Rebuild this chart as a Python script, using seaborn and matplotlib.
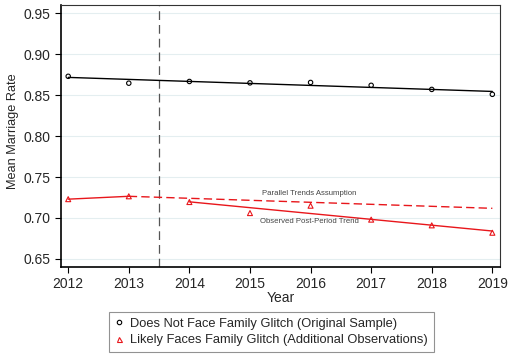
import numpy as np
import pandas as pd
import matplotlib
matplotlib.use("Agg")
import matplotlib.pyplot as plt
from matplotlib.lines import Line2D
import seaborn as sns

# values
years = [2012, 2013, 2014, 2015, 2016, 2017, 2018, 2019]
no_glitch = [0.873, 0.8646, 0.8667, 0.865, 0.8655, 0.862, 0.857, 0.851]
glitch = [0.723, 0.7265, 0.7195, 0.706, 0.715, 0.698, 0.691, 0.682]
treat_year = 2013.5
y_ticks = [0.65, 0.70, 0.75, 0.80, 0.85, 0.90, 0.95]

df = pd.DataFrame({"Year": years, "black": no_glitch, "red": glitch})
pre = df[df["Year"] < treat_year]
post = df[df["Year"] > treat_year]

# parallel trend: start at last pre-period red point, use black slope
slope = np.polyfit(df["Year"], df["black"], 1)[0]
par_x = df["Year"][df["Year"] >= pre["Year"].max()]
par = pd.DataFrame({"Year": par_x,
                    "y": pre["red"].iloc[-1] + slope * (par_x - pre["Year"].max())})

sns.set_style("white")
plt.rcParams["font.family"] = ["Liberation Sans", "DejaVu Sans"]

RED = "#e8161b"
fig = plt.figure(figsize=(5.12, 3.61), dpi=100)
ax = fig.add_axes([0.119, 0.260, 0.858, 0.726])

ax.grid(axis="y", color="#e4eef0", lw=0.8)
ax.axvline(treat_year, color="#555555", ls=(0, (7, 4)), lw=0.9, zorder=1)

# black series: linear fit + points
sns.regplot(data=df, x="Year", y="black", scatter=False, ci=None,
            color="black", line_kws={"lw": 1.0}, ax=ax)
sns.scatterplot(data=df, x="Year", y="black", marker="o", s=10,
                facecolor="none", edgecolor="black", linewidth=0.8, ax=ax, zorder=3)

# red series: pre-period line, post-period fit, parallel trend
sns.lineplot(data=pre, x="Year", y="red", color=RED, lw=1.0, ax=ax)
sns.regplot(data=post, x="Year", y="red", scatter=False, ci=None,
            color=RED, line_kws={"lw": 1.0}, ax=ax)
sns.lineplot(data=par, x="Year", y="y", color=RED, lw=1.0,
             linestyle=(0, (6, 3)), ax=ax)
sns.scatterplot(data=df, x="Year", y="red", marker="^", s=13,
                facecolor="none", edgecolor=RED, linewidth=0.8, ax=ax, zorder=3)

ax.text(2015.2, 0.7285, "Parallel Trends Assumption", fontsize=5.6, color="#444444")
ax.text(2015.17, 0.6935, "Observed Post-Period Trend", fontsize=5.6, color="#444444")

ax.set_xlim(2011.88, 2019.13)
ax.set_ylim(0.64, 0.96)
ax.set_xticks(years)
ax.set_yticks(y_ticks)
ax.set_yticklabels([f"{v:.2f}" for v in y_ticks])
ax.tick_params(axis="both", labelsize=10, length=4, width=0.8, color="black",
               direction="out", left=True, bottom=True)
ax.tick_params(axis="x", pad=3)
ax.set_xlabel("Year", fontsize=10, labelpad=0)
ax.set_ylabel("Mean Marriage Rate", fontsize=9.2)
ax.yaxis.set_label_coords(-0.095, 0.52)

for side in ["left", "bottom"]:
    ax.spines[side].set_color("black")
    ax.spines[side].set_linewidth(1.2)
for side in ["top", "right"]:
    ax.spines[side].set_color("#333333")
    ax.spines[side].set_linewidth(0.8)

handles = [
    Line2D([], [], ls="none", marker="o", ms=3.2, mfc="none", mec="black", mew=0.8),
    Line2D([], [], ls="none", marker="^", ms=3.6, mfc="none", mec=RED, mew=0.8),
]
labels = ["Does Not Face Family Glitch (Original Sample)",
          "Likely Faces Family Glitch (Additional Observations)"]
leg = fig.legend(handles, labels, loc="center", bbox_to_anchor=(0.530, 0.080),
                 fontsize=9.3, frameon=True, fancybox=False, handlelength=0.6,
                 handletextpad=0.6, borderpad=0.45, labelspacing=0.35)
leg.get_frame().set_edgecolor("#777777")
leg.get_frame().set_linewidth(0.8)

fig.savefig("out.png", dpi=100)
